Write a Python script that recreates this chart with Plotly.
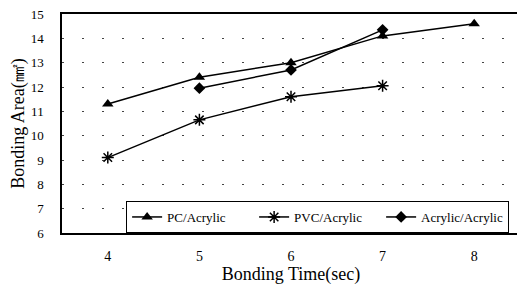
import plotly.graph_objects as go

time_pc = [4, 5, 6, 7, 8]
area_pc = [11.3, 12.4, 13.0, 14.1, 14.6]
time_pvc = [4, 5, 6, 7]
area_pvc = [9.1, 10.65, 11.6, 12.05]
time_acr = [5, 6, 7]
area_acr = [11.95, 12.7, 14.35]

x_ticks = [4, 5, 6, 7, 8]
y_ticks = [6, 7, 8, 9, 10, 11, 12, 13, 14, 15]

serif = "Liberation Serif, Times New Roman, serif"

fig = go.Figure()
fig.add_trace(go.Scatter(x=time_pc, y=area_pc, name="PC/Acrylic", mode="lines+markers",
                         line=dict(color="black", width=1.5),
                         marker=dict(symbol="triangle-up", size=10, color="black")))
fig.add_trace(go.Scatter(x=time_pvc, y=area_pvc, name="PVC/Acrylic", mode="lines+markers",
                         line=dict(color="black", width=1.5),
                         marker=dict(symbol="asterisk-open", size=10, color="black",
                                     line=dict(color="black", width=1.5))))
fig.add_trace(go.Scatter(x=time_acr, y=area_acr, name="Acrylic/Acrylic", mode="lines+markers",
                         line=dict(color="black", width=1.5),
                         marker=dict(symbol="diamond", size=9, color="black")))

# page body has an 8px default margin, so the figure is offset by (8, 8)
fig.update_layout(
    width=517, height=280,
    margin=dict(l=54, r=5, t=6, b=55),
    paper_bgcolor="white", plot_bgcolor="white",
    font=dict(family=serif, color="black", size=13),
    showlegend=True,
    legend=dict(orientation="h", x=0.14, y=0, xanchor="left", yanchor="bottom",
                bordercolor="black", borderwidth=1, bgcolor="white",
                font=dict(family=serif, size=13), itemwidth=30,
                entrywidth=82, entrywidthmode="pixels",
                tracegroupgap=0),
    xaxis=dict(range=[3.5, 8.5], tickvals=x_ticks, showgrid=False, zeroline=False,
               automargin=False,
               showline=True, linecolor="black", linewidth=1.5, mirror=True,
               ticks="outside", ticklen=9, tickcolor="rgba(0,0,0,0)",
               tickfont=dict(family=serif, size=14),
               title=dict(text="Bonding Time(sec)", font=dict(family=serif, size=18), standoff=2)),
    yaxis=dict(range=[6, 15], tickvals=y_ticks, showgrid=True, gridcolor="#444",
               griddash="2px,18px", gridwidth=1, zeroline=False,
               automargin=False, ticklabeloverflow="allow",
               showline=True, linecolor="black", linewidth=1.5, mirror=True,
               ticks="outside", ticklen=14, tickcolor="rgba(0,0,0,0)",
               tickfont=dict(family=serif, size=13),
               title=dict(text="Bonding Area(㎟)", font=dict(family=serif, size=18), standoff=2)),
)

fig.write_html("out.html", config={"displayModeBar": False})
